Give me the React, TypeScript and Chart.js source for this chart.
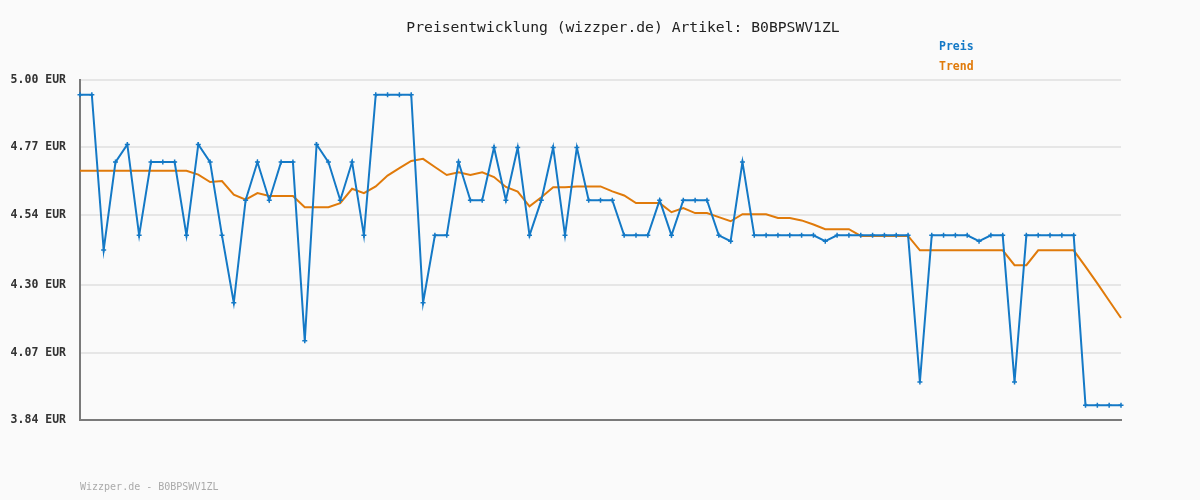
import React, { useEffect, useRef } from "react";
import { Chart, registerables } from "chart.js";

Chart.register(...registerables);

const titleText = "Preisentwicklung (wizzper.de) Artikel: B0BPSWV1ZL";
const footerText = "Wizzper.de - B0BPSWV1ZL";
const seriesNames = ["Preis", "Trend"];
const yTicks = [3.84, 4.07, 4.3, 4.54, 4.77, 5.0];

const preis = [
  4.95, 4.95, 4.42, 4.72, 4.78, 4.47, 4.72, 4.72, 4.72, 4.47,
  4.78, 4.72, 4.47, 4.24, 4.59, 4.72, 4.59, 4.72, 4.72, 4.11,
  4.78, 4.72, 4.59, 4.72, 4.47, 4.95, 4.95, 4.95, 4.95, 4.24,
  4.47, 4.47, 4.72, 4.59, 4.59, 4.77, 4.59, 4.77, 4.47, 4.59,
  4.77, 4.47, 4.77, 4.59, 4.59, 4.59, 4.47, 4.47, 4.47, 4.59,
  4.47, 4.59, 4.59, 4.59, 4.47, 4.45, 4.72, 4.47, 4.47, 4.47,
  4.47, 4.47, 4.47, 4.45, 4.47, 4.47, 4.47, 4.47, 4.47, 4.47,
  4.47, 3.97, 4.47, 4.47, 4.47, 4.47, 4.45, 4.47, 4.47, 3.97,
  4.47, 4.47, 4.47, 4.47, 4.47, 3.89, 3.89, 3.89, 3.89,
];

const trend = [
  4.69, 4.69, 4.69, 4.69, 4.69, 4.69, 4.69, 4.69, 4.69, 4.69,
  4.677, 4.652, 4.655, 4.609, 4.592, 4.614, 4.604, 4.604, 4.604, 4.566,
  4.566, 4.566, 4.58, 4.629, 4.614, 4.637, 4.674, 4.699, 4.724, 4.731,
  4.703, 4.676, 4.685, 4.676, 4.685, 4.669, 4.635, 4.619, 4.569, 4.6,
  4.634, 4.634, 4.637, 4.637, 4.637, 4.62, 4.606, 4.58, 4.58, 4.58,
  4.549, 4.563, 4.546, 4.546, 4.532, 4.518, 4.542, 4.542, 4.542, 4.529,
  4.529, 4.521, 4.507, 4.491, 4.491, 4.491, 4.468, 4.468, 4.468, 4.468,
  4.468, 4.419, 4.419, 4.419, 4.419, 4.419, 4.419, 4.419, 4.419, 4.368,
  4.368, 4.419, 4.419, 4.419, 4.419, 4.363, 4.306, 4.247, 4.188,
];

const labels = preis.map((_, i) => String(i + 1));

const BLUE = "#1479c6";
const ORANGE = "#e07a0a";
const MONO = "'DejaVu Sans Mono', 'Liberation Mono', monospace";

export default function App() {
  const ref = useRef<HTMLCanvasElement | null>(null);

  useEffect(() => {
    document.body.style.margin = "0";
    document.body.style.background = "#fafafa";
    const canvas = ref.current;
    if (!canvas) return;

    const decor = {
      id: "decor",
      beforeDraw(chart: any) {
        const ctx = chart.ctx;
        ctx.save();
        ctx.fillStyle = "#fafafa";
        ctx.fillRect(0, 0, chart.width, chart.height);
        ctx.restore();
      },
      afterDraw(chart: any) {
        const ctx = chart.ctx;
        ctx.save();
        ctx.textBaseline = "middle";
        ctx.textAlign = "center";
        ctx.fillStyle = "#222";
        ctx.font = `14.7px ${MONO}`;
        ctx.fillText(titleText, 623, 28);

        ctx.textAlign = "left";
        ctx.font = `bold 11.5px ${MONO}`;
        ctx.fillStyle = BLUE;
        ctx.fillText(seriesNames[0], 939, 47);
        ctx.fillStyle = ORANGE;
        ctx.fillText(seriesNames[1], 939, 67);

        ctx.font = `10px ${MONO}`;
        ctx.fillStyle = "#aaaaaa";
        ctx.fillText(footerText, 80, 487);
        ctx.restore();
      },
    };

    const chart = new Chart(canvas, {
      type: "line",
      data: {
        labels,
        datasets: [
          {
            label: seriesNames[1],
            data: trend,
            borderColor: ORANGE,
            borderWidth: 2,
            pointRadius: 0,
            tension: 0,
            order: 2,
          },
          {
            label: seriesNames[0],
            data: preis,
            borderColor: BLUE,
            backgroundColor: BLUE,
            borderWidth: 2,
            pointStyle: "cross",
            pointRadius: 2.5,
            pointBorderWidth: 1.5,
            pointBorderColor: BLUE,
            tension: 0,
            order: 1,
          },
        ],
      },
      options: {
        animation: false,
        responsive: false,
        layout: { padding: { left: 0, right: 79, top: 80, bottom: 80 } },
        plugins: {
          legend: { display: false },
          title: { display: false },
          tooltip: { enabled: false },
        },
        scales: {
          x: {
            offset: false,
            ticks: { display: false },
            grid: { display: false, drawTicks: false },
            border: { display: true, color: "#7a7a7a", width: 2 },
          },
          y: {
            min: 3.84,
            max: 5.0,
            afterBuildTicks: (scale: any) => {
              scale.ticks = yTicks.map((v) => ({ value: v }));
            },
            afterFit: (scale: any) => {
              scale.width = 80;
            },
            ticks: {
              padding: 14,
              color: "#333",
              font: { family: MONO, size: 11.5, weight: "bold" },
              callback: (v: any) => Number(v).toFixed(2) + " EUR",
            },
            grid: { color: "#e6e6e6", lineWidth: 2, drawTicks: false },
            border: { display: true, color: "#7a7a7a", width: 2 },
          },
        },
      },
      plugins: [decor],
    } as any);

    return () => chart.destroy();
  }, []);

  return <canvas ref={ref} width={1200} height={500} style={{ display: "block" }} />;
}
